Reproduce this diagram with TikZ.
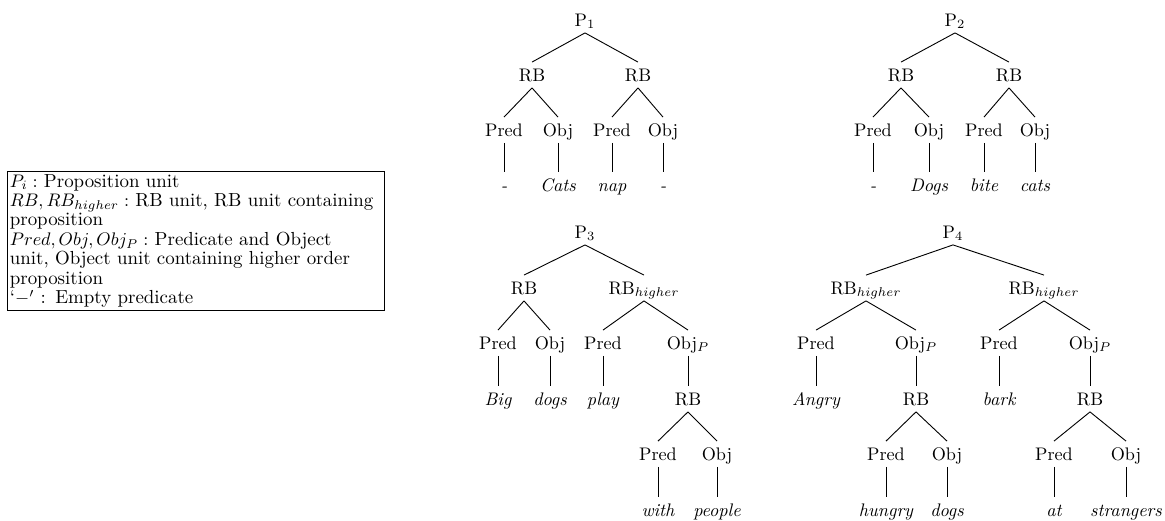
\documentclass[tikz,border=0pt]{standalone}
\begin{document}
\begin{tikzpicture}[x=0.55pt,y=-0.55pt,
  tn/.style={inner sep=2.3pt, text height=8pt, text depth=1.2pt, font=\fontsize{10}{12}\selectfont},
  lf/.style={tn, font=\fontsize{10}{12}\selectfont\itshape},
  br/.style={line width=0.5pt},
  legtext/.style={anchor=north west, align=left, inner xsep=0pt, inner ysep=1.5pt, text width=230pt, font=\fontsize{10.4}{10.7}\selectfont}]
\useasboundingbox (0,0) rectangle (1165,521);

% legend
\node[legtext] (leg) at (9.5,171) {\lineskiplimit=-20pt\hyphenpenalty=10000
$P_i :$ Proposition unit\\
$RB, RB_{higher} :$ RB unit, RB unit containing\\
proposition\\
$Pred, Obj, Obj_P :$ Predicate and Object\\
unit, Object unit containing higher order\\
proposition\\
`$-'$ : Empty predicate};
\coordinate (legtl) at (7,171);
\coordinate (legr) at (384,0);
\draw[br] (legtl) rectangle (legr |- leg.south);

% tree 1
\node[tn] (p1) at (585,20) {P$_1$};
\node[tn] (p1a) at (532,75) {RB};
\node[tn] (p1b) at (638,75) {RB};
\node[tn] (p1aa) at (504,130) {Pred};
\node[tn] (p1ab) at (558,130) {Obj};
\node[tn] (p1ba) at (612,130) {Pred};
\node[tn] (p1bb) at (663,130) {Obj};
\node[lf] (p1aal) at (504,185) {-};
\node[lf] (p1abl) at (558,185) {Cats};
\node[lf] (p1bal) at (612,185) {nap};
\node[lf] (p1bbl) at (663,185) {-};

% tree 2
\node[tn] (p2) at (955,20) {P$_2$};
\node[tn] (p2a) at (901,75) {RB};
\node[tn] (p2b) at (1009,75) {RB};
\node[tn] (p2aa) at (873,130) {Pred};
\node[tn] (p2ab) at (929,130) {Obj};
\node[tn] (p2ba) at (984,130) {Pred};
\node[tn] (p2bb) at (1035,130) {Obj};
\node[lf] (p2aal) at (873,185) {-};
\node[lf] (p2abl) at (929,185) {Dogs};
\node[lf] (p2bal) at (984,185) {bite};
\node[lf] (p2bbl) at (1035,185) {cats};

% tree 3
\node[tn] (p3) at (585,232) {P$_3$};
\node[tn] (p3a) at (524,288) {RB};
\node[tn] (p3b) at (644,288) {RB$_{higher}$};
\node[tn] (p3aa) at (498,343) {Pred};
\node[tn] (p3ab) at (550,343) {Obj};
\node[tn] (p3ba) at (603,343) {Pred};
\node[tn] (p3bb) at (688,343) {Obj$_P$};
\node[lf] (p3aal) at (498,399) {Big};
\node[lf] (p3abl) at (550,399) {dogs};
\node[lf] (p3bal) at (603,399) {play};
\node[tn] (p3bbr) at (688,399) {RB};
\node[tn] (p3bbra) at (658,454) {Pred};
\node[tn] (p3bbrb) at (717,454) {Obj};
\node[lf] (p3bbral) at (658,510) {with};
\node[lf] (p3bbrbl) at (717,510) {people};

% tree 4
\node[tn] (p4) at (953,232) {P$_4$};
\node[tn] (p4a) at (866,288) {RB$_{higher}$};
\node[tn] (p4b) at (1044,288) {RB$_{higher}$};
\node[tn] (p4aa) at (816,343) {Pred};
\node[tn] (p4ab) at (916,343) {Obj$_P$};
\node[tn] (p4ba) at (999,343) {Pred};
\node[tn] (p4bb) at (1090,343) {Obj$_P$};
\node[lf] (p4aal) at (816,399) {Angry};
\node[tn] (p4abr) at (916,399) {RB};
\node[lf] (p4bal) at (999,399) {bark};
\node[tn] (p4bbr) at (1090,399) {RB};
\node[tn] (p4abra) at (886,454) {Pred};
\node[tn] (p4abrb) at (947,454) {Obj};
\node[tn] (p4bbra) at (1054,454) {Pred};
\node[tn] (p4bbrb) at (1126,454) {Obj};
\node[lf] (p4abral) at (886,510) {hungry};
\node[lf] (p4abrbl) at (947,510) {dogs};
\node[lf] (p4bbral) at (1054,510) {at};
\node[lf] (p4bbrbl) at (1126,510) {strangers};

\foreach \a/\b in {p1/p1a,p1/p1b,p1a/p1aa,p1a/p1ab,p1b/p1ba,p1b/p1bb,
  p1aa/p1aal,p1ab/p1abl,p1ba/p1bal,p1bb/p1bbl,
  p2/p2a,p2/p2b,p2a/p2aa,p2a/p2ab,p2b/p2ba,p2b/p2bb,
  p2aa/p2aal,p2ab/p2abl,p2ba/p2bal,p2bb/p2bbl,
  p3/p3a,p3/p3b,p3a/p3aa,p3a/p3ab,p3b/p3ba,p3b/p3bb,
  p3aa/p3aal,p3ab/p3abl,p3ba/p3bal,p3bb/p3bbr,
  p3bbr/p3bbra,p3bbr/p3bbrb,p3bbra/p3bbral,p3bbrb/p3bbrbl,
  p4/p4a,p4/p4b,p4a/p4aa,p4a/p4ab,p4b/p4ba,p4b/p4bb,
  p4aa/p4aal,p4ab/p4abr,p4ba/p4bal,p4bb/p4bbr,
  p4abr/p4abra,p4abr/p4abrb,p4bbr/p4bbra,p4bbr/p4bbrb,
  p4abra/p4abral,p4abrb/p4abrbl,p4bbra/p4bbral,p4bbrb/p4bbrbl}
  \draw[br] (\a.south) -- (\b.north);
\end{tikzpicture}
\end{document}
